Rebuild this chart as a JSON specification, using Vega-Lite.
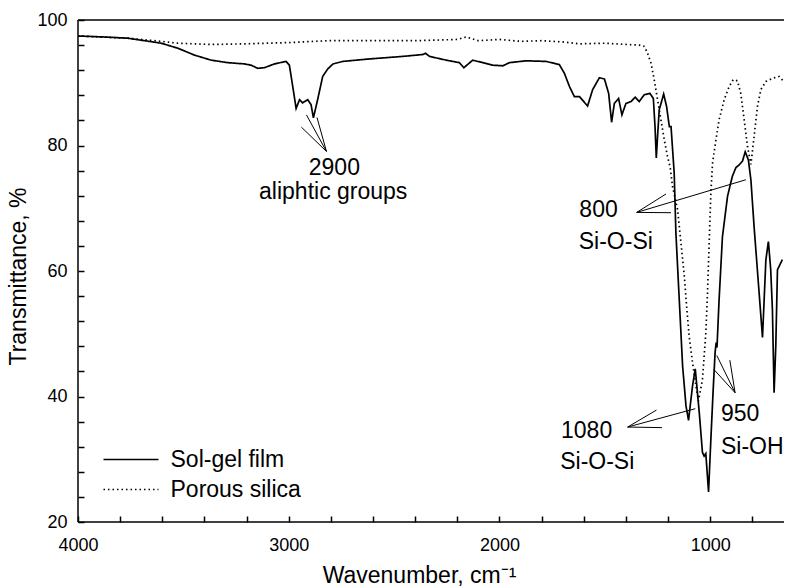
{
  "$schema": "https://vega.github.io/schema/vega-lite/v6.json",
  "width": 706,
  "height": 502,
  "autosize": "none",
  "padding": {"left": 78, "top": 20, "right": 2, "bottom": 65},
  "background": "white",
  "config": {
    "view": {"stroke": null},
    "font": "Liberation Sans",
    "axis": {
      "grid": false,
      "domain": false,
      "labelColor": "black",
      "labelFontSize": 18,
      "labelFont": "Liberation Sans",
      "titleColor": "black",
      "titleFontSize": 23,
      "titleFont": "Liberation Sans",
      "titleFontWeight": "normal",
      "labelFlush": false,
      "labelOverlap": false
    }
  },
  "datasets": {
    "spectra": [
      {"series": "Sol-gel film", "w": 4000, "T": 97.45},
      {"series": "Sol-gel film", "w": 3880, "T": 97.3},
      {"series": "Sol-gel film", "w": 3763, "T": 97.1},
      {"series": "Sol-gel film", "w": 3605, "T": 96.3},
      {"series": "Sol-gel film", "w": 3526, "T": 95.5},
      {"series": "Sol-gel film", "w": 3447, "T": 94.4},
      {"series": "Sol-gel film", "w": 3368, "T": 93.6},
      {"series": "Sol-gel film", "w": 3289, "T": 93.2},
      {"series": "Sol-gel film", "w": 3210, "T": 93.0},
      {"series": "Sol-gel film", "w": 3179, "T": 92.8},
      {"series": "Sol-gel film", "w": 3147, "T": 92.3},
      {"series": "Sol-gel film", "w": 3115, "T": 92.4},
      {"series": "Sol-gel film", "w": 3068, "T": 93.0},
      {"series": "Sol-gel film", "w": 3013, "T": 93.4},
      {"series": "Sol-gel film", "w": 2997, "T": 92.8},
      {"series": "Sol-gel film", "w": 2981, "T": 89.4},
      {"series": "Sol-gel film", "w": 2965, "T": 85.9},
      {"series": "Sol-gel film", "w": 2949, "T": 87.3},
      {"series": "Sol-gel film", "w": 2934, "T": 86.8},
      {"series": "Sol-gel film", "w": 2910, "T": 87.3},
      {"series": "Sol-gel film", "w": 2894, "T": 86.5},
      {"series": "Sol-gel film", "w": 2883, "T": 84.4},
      {"series": "Sol-gel film", "w": 2863, "T": 87.3},
      {"series": "Sol-gel film", "w": 2839, "T": 91.0},
      {"series": "Sol-gel film", "w": 2815, "T": 92.2},
      {"series": "Sol-gel film", "w": 2790, "T": 93.0},
      {"series": "Sol-gel film", "w": 2743, "T": 93.4},
      {"series": "Sol-gel film", "w": 2616, "T": 93.8},
      {"series": "Sol-gel film", "w": 2458, "T": 94.2},
      {"series": "Sol-gel film", "w": 2364, "T": 94.5},
      {"series": "Sol-gel film", "w": 2351, "T": 94.7},
      {"series": "Sol-gel film", "w": 2332, "T": 94.2},
      {"series": "Sol-gel film", "w": 2253, "T": 93.6},
      {"series": "Sol-gel film", "w": 2190, "T": 93.2},
      {"series": "Sol-gel film", "w": 2169, "T": 92.4},
      {"series": "Sol-gel film", "w": 2127, "T": 93.6},
      {"series": "Sol-gel film", "w": 2079, "T": 93.2},
      {"series": "Sol-gel film", "w": 2032, "T": 92.8},
      {"series": "Sol-gel film", "w": 1984, "T": 92.7},
      {"series": "Sol-gel film", "w": 1953, "T": 93.2},
      {"series": "Sol-gel film", "w": 1874, "T": 93.5},
      {"series": "Sol-gel film", "w": 1779, "T": 93.4},
      {"series": "Sol-gel film", "w": 1716, "T": 92.9},
      {"series": "Sol-gel film", "w": 1692, "T": 91.5},
      {"series": "Sol-gel film", "w": 1668, "T": 89.4},
      {"series": "Sol-gel film", "w": 1645, "T": 87.8},
      {"series": "Sol-gel film", "w": 1621, "T": 87.8},
      {"series": "Sol-gel film", "w": 1582, "T": 86.3},
      {"series": "Sol-gel film", "w": 1558, "T": 88.9},
      {"series": "Sol-gel film", "w": 1526, "T": 90.8},
      {"series": "Sol-gel film", "w": 1502, "T": 90.6},
      {"series": "Sol-gel film", "w": 1482, "T": 88.3},
      {"series": "Sol-gel film", "w": 1468, "T": 83.7},
      {"series": "Sol-gel film", "w": 1455, "T": 86.7},
      {"series": "Sol-gel film", "w": 1435, "T": 87.5},
      {"series": "Sol-gel film", "w": 1419, "T": 84.9},
      {"series": "Sol-gel film", "w": 1400, "T": 86.7},
      {"series": "Sol-gel film", "w": 1376, "T": 87.0},
      {"series": "Sol-gel film", "w": 1356, "T": 87.7},
      {"series": "Sol-gel film", "w": 1337, "T": 87.0},
      {"series": "Sol-gel film", "w": 1313, "T": 88.1},
      {"series": "Sol-gel film", "w": 1286, "T": 88.3},
      {"series": "Sol-gel film", "w": 1270, "T": 87.5},
      {"series": "Sol-gel film", "w": 1262, "T": 83.0},
      {"series": "Sol-gel film", "w": 1256, "T": 78.0},
      {"series": "Sol-gel film", "w": 1249, "T": 82.0},
      {"series": "Sol-gel film", "w": 1242, "T": 85.7},
      {"series": "Sol-gel film", "w": 1221, "T": 88.2},
      {"series": "Sol-gel film", "w": 1207, "T": 86.2},
      {"series": "Sol-gel film", "w": 1194, "T": 83.0},
      {"series": "Sol-gel film", "w": 1186, "T": 83.0},
      {"series": "Sol-gel film", "w": 1171, "T": 75.6},
      {"series": "Sol-gel film", "w": 1163, "T": 66.1},
      {"series": "Sol-gel film", "w": 1147, "T": 55.4},
      {"series": "Sol-gel film", "w": 1131, "T": 44.8},
      {"series": "Sol-gel film", "w": 1115, "T": 38.5},
      {"series": "Sol-gel film", "w": 1103, "T": 36.2},
      {"series": "Sol-gel film", "w": 1084, "T": 41.7},
      {"series": "Sol-gel film", "w": 1071, "T": 44.4},
      {"series": "Sol-gel film", "w": 1052, "T": 37.4},
      {"series": "Sol-gel film", "w": 1037, "T": 31.1},
      {"series": "Sol-gel film", "w": 1029, "T": 30.5},
      {"series": "Sol-gel film", "w": 1021, "T": 30.9},
      {"series": "Sol-gel film", "w": 1008, "T": 24.8},
      {"series": "Sol-gel film", "w": 997, "T": 33.2},
      {"series": "Sol-gel film", "w": 986, "T": 41.1},
      {"series": "Sol-gel film", "w": 977, "T": 47.0},
      {"series": "Sol-gel film", "w": 972, "T": 48.6},
      {"series": "Sol-gel film", "w": 968, "T": 47.8},
      {"series": "Sol-gel film", "w": 958, "T": 55.4},
      {"series": "Sol-gel film", "w": 942, "T": 65.5},
      {"series": "Sol-gel film", "w": 918, "T": 71.9},
      {"series": "Sol-gel film", "w": 895, "T": 75.1},
      {"series": "Sol-gel film", "w": 878, "T": 76.5},
      {"series": "Sol-gel film", "w": 863, "T": 76.9},
      {"series": "Sol-gel film", "w": 847, "T": 77.5},
      {"series": "Sol-gel film", "w": 834, "T": 79.0},
      {"series": "Sol-gel film", "w": 819, "T": 77.7},
      {"series": "Sol-gel film", "w": 807, "T": 74.5},
      {"series": "Sol-gel film", "w": 792, "T": 67.1},
      {"series": "Sol-gel film", "w": 768, "T": 56.5},
      {"series": "Sol-gel film", "w": 752, "T": 49.4},
      {"series": "Sol-gel film", "w": 736, "T": 61.8},
      {"series": "Sol-gel film", "w": 724, "T": 64.7},
      {"series": "Sol-gel film", "w": 713, "T": 60.2},
      {"series": "Sol-gel film", "w": 705, "T": 53.9},
      {"series": "Sol-gel film", "w": 697, "T": 40.6},
      {"series": "Sol-gel film", "w": 689, "T": 48.0},
      {"series": "Sol-gel film", "w": 681, "T": 60.2},
      {"series": "Sol-gel film", "w": 658, "T": 61.8},
      {"series": "Porous silica", "w": 4000, "T": 97.45},
      {"series": "Porous silica", "w": 3763, "T": 97.1},
      {"series": "Porous silica", "w": 3605, "T": 96.6},
      {"series": "Porous silica", "w": 3526, "T": 96.3},
      {"series": "Porous silica", "w": 3368, "T": 96.1},
      {"series": "Porous silica", "w": 3210, "T": 96.2},
      {"series": "Porous silica", "w": 3000, "T": 96.4},
      {"series": "Porous silica", "w": 2815, "T": 96.7},
      {"series": "Porous silica", "w": 2600, "T": 96.7},
      {"series": "Porous silica", "w": 2400, "T": 96.7},
      {"series": "Porous silica", "w": 2300, "T": 96.8},
      {"series": "Porous silica", "w": 2200, "T": 96.9},
      {"series": "Porous silica", "w": 2158, "T": 97.3},
      {"series": "Porous silica", "w": 2100, "T": 96.7},
      {"series": "Porous silica", "w": 2000, "T": 96.9},
      {"series": "Porous silica", "w": 1900, "T": 96.6},
      {"series": "Porous silica", "w": 1800, "T": 96.7},
      {"series": "Porous silica", "w": 1700, "T": 96.5},
      {"series": "Porous silica", "w": 1621, "T": 96.2},
      {"series": "Porous silica", "w": 1500, "T": 96.3},
      {"series": "Porous silica", "w": 1400, "T": 96.1},
      {"series": "Porous silica", "w": 1337, "T": 96.0},
      {"series": "Porous silica", "w": 1313, "T": 95.8},
      {"series": "Porous silica", "w": 1297, "T": 94.7},
      {"series": "Porous silica", "w": 1281, "T": 93.1},
      {"series": "Porous silica", "w": 1266, "T": 90.5},
      {"series": "Porous silica", "w": 1250, "T": 87.3},
      {"series": "Porous silica", "w": 1234, "T": 84.1},
      {"series": "Porous silica", "w": 1218, "T": 80.9},
      {"series": "Porous silica", "w": 1203, "T": 78.3},
      {"series": "Porous silica", "w": 1190, "T": 76.5},
      {"series": "Porous silica", "w": 1179, "T": 73.5},
      {"series": "Porous silica", "w": 1155, "T": 69.8},
      {"series": "Porous silica", "w": 1139, "T": 64.5},
      {"series": "Porous silica", "w": 1123, "T": 59.2},
      {"series": "Porous silica", "w": 1111, "T": 53.9},
      {"series": "Porous silica", "w": 1100, "T": 49.6},
      {"series": "Porous silica", "w": 1084, "T": 45.4},
      {"series": "Porous silica", "w": 1068, "T": 41.7},
      {"series": "Porous silica", "w": 1056, "T": 39.3},
      {"series": "Porous silica", "w": 1037, "T": 42.7},
      {"series": "Porous silica", "w": 1029, "T": 46.4},
      {"series": "Porous silica", "w": 1021, "T": 50.1},
      {"series": "Porous silica", "w": 1013, "T": 56.5},
      {"series": "Porous silica", "w": 1005, "T": 64.5},
      {"series": "Porous silica", "w": 997, "T": 72.4},
      {"series": "Porous silica", "w": 989, "T": 77.2},
      {"series": "Porous silica", "w": 973, "T": 80.9},
      {"series": "Porous silica", "w": 958, "T": 84.1},
      {"series": "Porous silica", "w": 934, "T": 87.3},
      {"series": "Porous silica", "w": 910, "T": 89.4},
      {"series": "Porous silica", "w": 891, "T": 90.5},
      {"series": "Porous silica", "w": 871, "T": 90.3},
      {"series": "Porous silica", "w": 855, "T": 88.3},
      {"series": "Porous silica", "w": 839, "T": 84.1},
      {"series": "Porous silica", "w": 823, "T": 79.8},
      {"series": "Porous silica", "w": 807, "T": 77.0},
      {"series": "Porous silica", "w": 792, "T": 81.4},
      {"series": "Porous silica", "w": 776, "T": 86.2},
      {"series": "Porous silica", "w": 760, "T": 88.9},
      {"series": "Porous silica", "w": 736, "T": 90.2},
      {"series": "Porous silica", "w": 705, "T": 90.7},
      {"series": "Porous silica", "w": 673, "T": 91.0},
      {"series": "Porous silica", "w": 654, "T": 90.3}
    ],
    "labels": [
      {"w": 2905, "T": 75.3, "label": "2900"},
      {"w": 3141, "T": 71.4, "label": "aliphtic groups"},
      {"w": 1621, "T": 68.6, "label": "800"},
      {"w": 1624, "T": 63.5, "label": "Si-O-Si"},
      {"w": 1708, "T": 33.4, "label": "1080"},
      {"w": 1712, "T": 28.4, "label": "Si-O-Si"},
      {"w": 949, "T": 36.1, "label": "950"},
      {"w": 949, "T": 30.9, "label": "Si-OH"}
    ],
    "frame": [
      {"w": 4000, "T": 100, "w2": 650, "T2": 100},
      {"w": 4000, "T": 20, "w2": 650, "T2": 20},
      {"w": 4000, "T": 20, "w2": 4000, "T2": 100}
    ],
    "arrows": [
      {"w": 2821, "T": 79.05, "w2": 2940, "T2": 82.93},
      {"w": 2821, "T": 79.05, "w2": 2916, "T2": 84.88},
      {"w": 2821, "T": 79.05, "w2": 2866, "T2": 84.46},
      {"w": 1349, "T": 69.34, "w2": 831, "T2": 74.54},
      {"w": 1349, "T": 69.34, "w2": 1210, "T2": 72.27},
      {"w": 1349, "T": 69.34, "w2": 1186, "T2": 69.29},
      {"w": 1392, "T": 35.13, "w2": 1255, "T2": 37.84},
      {"w": 1392, "T": 35.13, "w2": 1071, "T2": 38.06},
      {"w": 1392, "T": 35.13, "w2": 1229, "T2": 35.04},
      {"w": 882, "T": 40.6, "w2": 969, "T2": 46.54},
      {"w": 882, "T": 40.6, "w2": 984, "T2": 44.36},
      {"w": 882, "T": 40.6, "w2": 907, "T2": 45.79}
    ]
  },
  "encoding": {
    "x": {
      "field": "w", "type": "quantitative",
      "scale": {"domain": [4000, 650], "nice": false, "zero": false},
      "axis": {
        "title": "Wavenumber, cm⁻¹",
        "values": [4000, 3800, 3600, 3400, 3200, 3000, 2800, 2600, 2400, 2200, 2000, 1800, 1600, 1400, 1200, 1000, 800],
        "format": "d",
        "labelExpr": "datum.value % 1000 == 0 ? datum.label : ''",
        "labelOverlap": false,
        "ticks": true,
        "tickSize": 6,
        "tickWidth": 1.5,
        "tickColor": "#000000",
        "tickOpacity": 1,
        "zindex": 2,
        "offset": -6,
        "labelPadding": 14,
        "titleX": 341,
        "titleY": 66,
        "titleBaseline": "alphabetic"
      }
    },
    "y": {
      "field": "T", "type": "quantitative",
      "scale": {"domain": [20, 100], "nice": false, "zero": false},
      "axis": {
        "title": "Transmittance, %",
        "values": [20, 24, 28, 32, 36, 40, 44, 48, 52, 56, 60, 64, 68, 72, 76, 80, 84, 88, 92, 96, 100],
        "labelExpr": "datum.value % 20 == 0 ? datum.label : ''",
        "labelOverlap": false,
        "ticks": true,
        "tickSize": 6,
        "tickWidth": 1.5,
        "tickColor": "#000000",
        "tickOpacity": 1,
        "zindex": 2,
        "offset": -6,
        "labelPadding": 11,
        "titleX": -66,
        "titleY": 256,
        "titleBaseline": "middle",
        "titleAngle": -90
      }
    }
  },
  "layer": [
    {
      "data": {"name": "spectra"},
      "mark": {"type": "line", "color": "black", "strokeWidth": 1.7, "clip": true},
      "encoding": {
        "strokeDash": {
          "field": "series", "type": "nominal",
          "scale": {"domain": ["Sol-gel film", "Porous silica"], "range": [[1, 0], [1.5, 3]]},
          "legend": {
            "title": null,
            "orient": "none",
            "legendX": 41.5,
            "legendY": 428,
            "padding": 0,
            "symbolType": "M-5,0H5",
            "symbolSize": 121,
            "symbolStrokeWidth": 1.5,
            "symbolStrokeColor": "black",
            "labelFontSize": 23,
            "labelFont": "Liberation Sans",
            "labelColor": "black",
            "labelOffset": 28,
            "rowPadding": 6
          }
        }
      }
    },
    {
      "data": {"name": "frame"},
      "mark": {"type": "rule", "color": "black", "strokeWidth": 1.5},
      "encoding": {
        "x2": {"field": "w2"},
        "y2": {"field": "T2"}
      }
    },
    {
      "data": {"name": "arrows"},
      "mark": {"type": "rule", "color": "black", "strokeWidth": 1},
      "encoding": {
        "x2": {"field": "w2"},
        "y2": {"field": "T2"}
      }
    },
    {
      "data": {"name": "labels"},
      "mark": {"type": "text", "align": "left", "baseline": "alphabetic", "fontSize": 23, "font": "Liberation Sans", "color": "black"},
      "encoding": {
        "text": {"field": "label"}
      }
    }
  ]
}
